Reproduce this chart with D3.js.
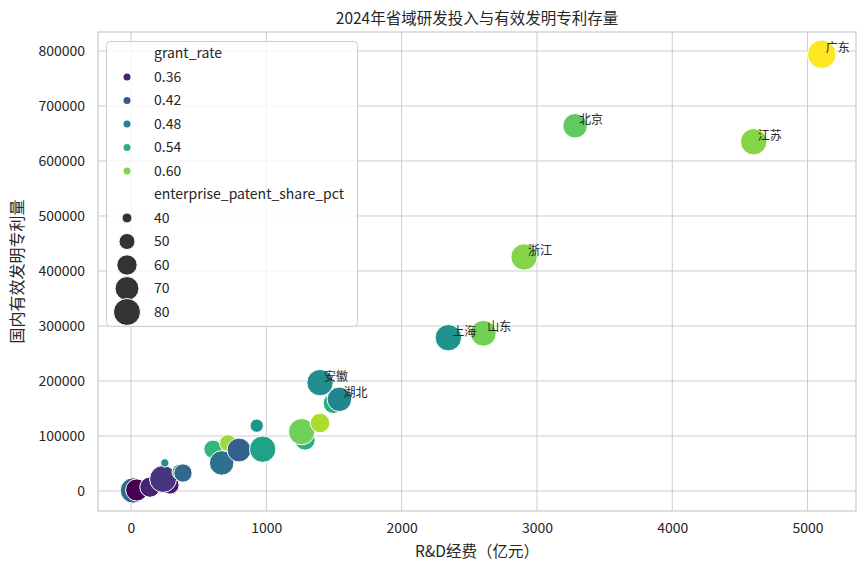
<!DOCTYPE html>
<html>
<head>
<meta charset="utf-8">
<script src="https://cdn.jsdelivr.net/npm/d3@7"></script>
<style>
  body { margin: 0; background: #fff; }
  svg { font-family: "Noto Sans CJK SC", "Noto Sans", sans-serif; }
</style>
</head>
<body>
<svg id="chart" width="857" height="562"></svg>
<script>
// 省份（空字符串表示图中未标注）
const provinces = ["", "", "", "", "", "", "", "", "", "", "", "", "", "", "", "", "", "",
  "安徽", "湖北", "上海", "山东", "浙江", "北京", "江苏", "广东"];
// R&D经费（亿元）
const rdSpend = [15, 42, 140, 288, 237, 250, 362, 384, 606, 717, 670, 798, 929, 973, 1286, 1261, 1397, 1495,
  1397, 1540, 2345, 2604, 2905, 3282, 4602, 5105];
// 国内有效发明专利量
const patents = [1000, 1800, 7000, 11000, 21800, 51000, 34500, 32700, 76000, 87000, 51000, 74500, 118700, 76000, 92700, 107800, 123600, 159400,
  197000, 166700, 278700, 286700, 425500, 664000, 635000, 794000];
const grantRate = [0.44, 0.33, 0.36, 0.35, 0.38, 0.49, 0.52, 0.44, 0.55, 0.61, 0.45, 0.43, 0.50, 0.52, 0.54, 0.59, 0.62, 0.54,
  0.49, 0.48, 0.50, 0.59, 0.60, 0.58, 0.60, 0.66];
const sharePct = [75, 65, 60, 55, 80, 38, 50, 55, 55, 52, 72, 70, 45, 78, 60, 78, 58, 60,
  78, 72, 78, 76, 78, 72, 78, 86];

const hueTicks = [0.36, 0.42, 0.48, 0.54, 0.60];
const sizeTicks = [40, 50, 60, 70, 80];
const xTicks = [0, 1000, 2000, 3000, 4000, 5000];
const yTicks = [0, 100000, 200000, 300000, 400000, 500000, 600000, 700000, 800000];

const data = rdSpend.map((d, i) => ({
  name: provinces[i], x: d, y: patents[i], rate: grantRate[i], share: sharePct[i]
}));

const svg = d3.select('#chart');
const pLeft = 98, pRight = 856, pTop = 32, pBottom = 511;

const x = d3.scaleLinear().domain([-244, 5358]).range([pLeft, pRight]);
const y = d3.scaleLinear().domain([-36400, 834500]).range([pBottom, pTop]);
const color = d3.scaleSequential(d3.interpolateViridis).domain([0.33, 0.66]);
// 面积与数值线性对应
const area = d3.scaleLinear().domain([40, 80]).range([78.5, 572]);
const radius = v => Math.sqrt(Math.max(area(v), 10) / Math.PI);

// 网格
svg.append('g').selectAll('line').data(xTicks).enter().append('line')
  .attr('x1', d => x(d)).attr('x2', d => x(d)).attr('y1', pTop).attr('y2', pBottom)
  .attr('stroke', '#cccccc').attr('stroke-width', 1);
svg.append('g').selectAll('line').data(yTicks).enter().append('line')
  .attr('y1', d => y(d)).attr('y2', d => y(d)).attr('x1', pLeft).attr('x2', pRight)
  .attr('stroke', '#cccccc').attr('stroke-width', 1);

// 坐标轴
const xAxis = svg.append('g').attr('transform', `translate(0,${pBottom})`)
  .call(d3.axisBottom(x).tickValues(xTicks).tickSize(0).tickPadding(12).tickFormat(d3.format('d')));
const yAxis = svg.append('g').attr('transform', `translate(${pLeft},0)`)
  .call(d3.axisLeft(y).tickValues(yTicks).tickSize(0).tickPadding(13).tickFormat(d3.format('d')));
[xAxis, yAxis].forEach(a => {
  a.select('.domain').remove();
  a.selectAll('text').attr('font-size', 14).attr('fill', '#262626')
    .attr('font-family', '"Noto Sans CJK SC", sans-serif');
});

// 边框
svg.append('rect').attr('x', pLeft).attr('y', pTop).attr('width', pRight - pLeft).attr('height', pBottom - pTop)
  .attr('fill', 'none').attr('stroke', '#cccccc').attr('stroke-width', 1.25);

// 散点
svg.append('g').selectAll('circle').data(data).enter().append('circle')
  .attr('cx', d => x(d.x)).attr('cy', d => y(d.y))
  .attr('r', d => radius(d.share))
  .attr('fill', d => color(d.rate))
  .attr('stroke', '#fff').attr('stroke-width', 1);

// 省份标注
svg.append('g').selectAll('text').data(data.filter(d => d.name)).enter().append('text')
  .attr('x', d => x(d.x) + 4).attr('y', d => y(d.y) - 2)
  .attr('font-size', 12).attr('fill', '#262626')
  .text(d => d.name);

// 图例
const lg = svg.append('g');
lg.append('rect').attr('x', 106.5).attr('y', 41.5).attr('width', 251).attr('height', 285).attr('rx', 4)
  .attr('fill', 'rgba(255,255,255,0.8)').attr('stroke', '#cccccc');
const rowY = i => 53.5 + i * 23.5;
const legendRows = [{ label: 'grant_rate' }]
  .concat(hueTicks.map(v => ({ label: v.toFixed(2), hue: v })))
  .concat([{ label: 'enterprise_patent_share_pct' }])
  .concat(sizeTicks.map(v => ({ label: String(v), size: v })));
legendRows.forEach((r, i) => {
  if (r.hue !== undefined) {
    lg.append('circle').attr('cx', 127).attr('cy', rowY(i)).attr('r', 3.5).attr('fill', color(r.hue));
  }
  if (r.size !== undefined) {
    lg.append('circle').attr('cx', 127).attr('cy', rowY(i)).attr('r', radius(r.size))
      .attr('fill', '#333333').attr('stroke', '#fff').attr('stroke-width', 1);
  }
  lg.append('text').attr('x', 154).attr('y', rowY(i)).attr('dy', '0.35em')
    .attr('font-size', 14).attr('fill', '#262626').text(r.label);
});

// 标题与轴标题
svg.append('text').attr('x', (pLeft + pRight) / 2).attr('y', 24).attr('text-anchor', 'middle')
  .attr('font-size', 15.5).attr('fill', '#262626').text('2024年省域研发投入与有效发明专利存量');
svg.append('text').attr('x', (pLeft + pRight) / 2).attr('y', 557).attr('text-anchor', 'middle')
  .attr('font-size', 15.5).attr('fill', '#262626').text('R&D经费（亿元）');
svg.append('text').attr('transform', `translate(23,${(pTop + pBottom) / 2}) rotate(-90)`)
  .attr('text-anchor', 'middle').attr('font-size', 16).attr('fill', '#262626').text('国内有效发明专利量');
</script>
</body>
</html>
